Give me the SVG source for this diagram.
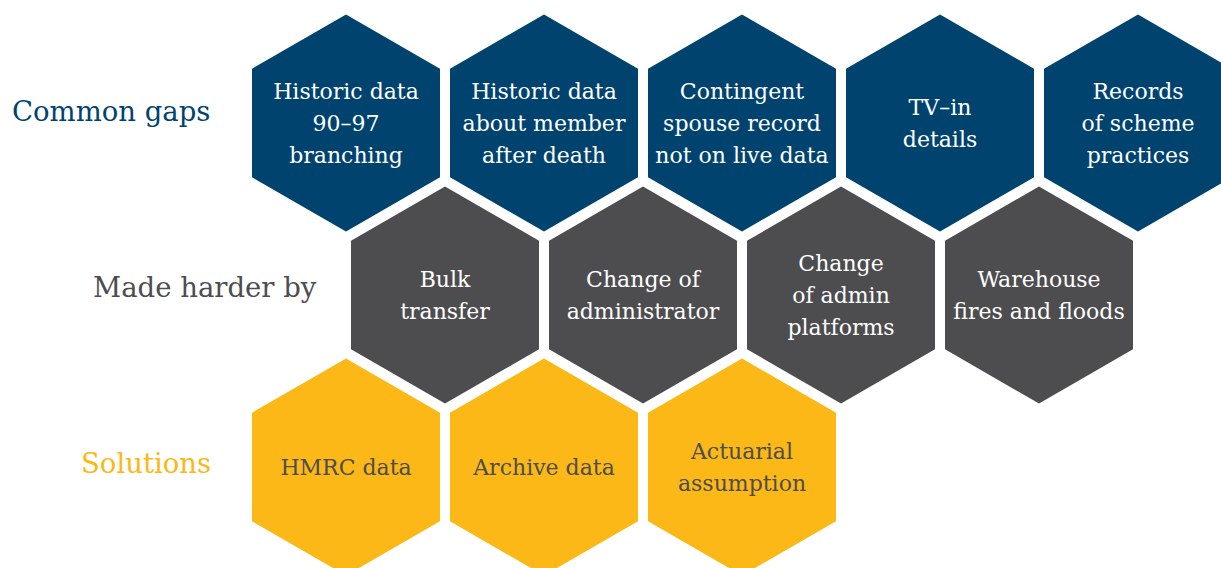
<svg xmlns="http://www.w3.org/2000/svg" xmlns:xlink="http://www.w3.org/1999/xlink" width="1221" height="568" viewBox="0 0 1221 568">
  <defs>
    <!-- pointy-top hexagon centred on the origin -->
    <path id="hex" d="M0,-108.5 L94,-54.25 L94,54.25 L0,108.5 L-94,54.25 L-94,-54.25 Z"/>
    <style>
      text { font-family: "DejaVu Serif", "Liberation Serif", serif; text-anchor: middle; }
      .gap { fill: #00436f; }
      .hard { fill: #4d4d4f; }
      .sol { fill: #fbb817; }
      .light { fill: #ffffff; font-size: 22px; }
      .dark { fill: #4d4d4f; font-size: 22px; }
      .row { font-size: 27.5px; text-anchor: start; }
    </style>
  </defs>
  <rect width="1221" height="568" fill="#ffffff"/>

  <!-- row labels -->
  <g id="labels">
    <text class="row" x="12" y="121" fill="#00436f">Common gaps</text>
    <text class="row" x="93" y="297" fill="#4d4d4f">Made harder by</text>
    <text class="row" x="81" y="473" fill="#fbb817">Solutions</text>
  </g>

  <!-- Common gaps -->
  <g id="gap-historic-90-97" transform="translate(346,123)">
    <use xlink:href="#hex" class="gap"/>
    <text class="light"><tspan x="0" y="-24">Historic data</tspan><tspan x="0" y="8">90–97</tspan><tspan x="0" y="40">branching</tspan></text>
  </g>
  <g id="gap-after-death" transform="translate(544,123)">
    <use xlink:href="#hex" class="gap"/>
    <text class="light"><tspan x="0" y="-24">Historic data</tspan><tspan x="0" y="8">about member</tspan><tspan x="0" y="40">after death</tspan></text>
  </g>
  <g id="gap-spouse" transform="translate(742,123)">
    <use xlink:href="#hex" class="gap"/>
    <text class="light"><tspan x="0" y="-24">Contingent</tspan><tspan x="0" y="8">spouse record</tspan><tspan x="0" y="40">not on live data</tspan></text>
  </g>
  <g id="gap-tv-in" transform="translate(940,123)">
    <use xlink:href="#hex" class="gap"/>
    <text class="light"><tspan x="0" y="-8">TV–in</tspan><tspan x="0" y="24">details</tspan></text>
  </g>
  <g id="gap-scheme-practices" transform="translate(1138,123)">
    <use xlink:href="#hex" class="gap"/>
    <text class="light"><tspan x="0" y="-24">Records</tspan><tspan x="0" y="8">of scheme</tspan><tspan x="0" y="40">practices</tspan></text>
  </g>

  <!-- Made harder by -->
  <g id="hard-bulk-transfer" transform="translate(445,295)">
    <use xlink:href="#hex" class="hard"/>
    <text class="light"><tspan x="0" y="-8">Bulk</tspan><tspan x="0" y="24">transfer</tspan></text>
  </g>
  <g id="hard-administrator" transform="translate(643,295)">
    <use xlink:href="#hex" class="hard"/>
    <text class="light"><tspan x="0" y="-8">Change of</tspan><tspan x="0" y="24">administrator</tspan></text>
  </g>
  <g id="hard-platforms" transform="translate(841,295)">
    <use xlink:href="#hex" class="hard"/>
    <text class="light"><tspan x="0" y="-24">Change</tspan><tspan x="0" y="8">of admin</tspan><tspan x="0" y="40">platforms</tspan></text>
  </g>
  <g id="hard-warehouse" transform="translate(1039,295)">
    <use xlink:href="#hex" class="hard"/>
    <text class="light"><tspan x="0" y="-8">Warehouse</tspan><tspan x="0" y="24">fires and floods</tspan></text>
  </g>

  <!-- Solutions -->
  <g id="sol-hmrc" transform="translate(346,467)">
    <use xlink:href="#hex" class="sol"/>
    <text class="dark"><tspan x="0" y="8">HMRC data</tspan></text>
  </g>
  <g id="sol-archive" transform="translate(544,467)">
    <use xlink:href="#hex" class="sol"/>
    <text class="dark"><tspan x="0" y="8">Archive data</tspan></text>
  </g>
  <g id="sol-actuarial" transform="translate(742,467)">
    <use xlink:href="#hex" class="sol"/>
    <text class="dark"><tspan x="0" y="-8">Actuarial</tspan><tspan x="0" y="24">assumption</tspan></text>
  </g>
</svg>
